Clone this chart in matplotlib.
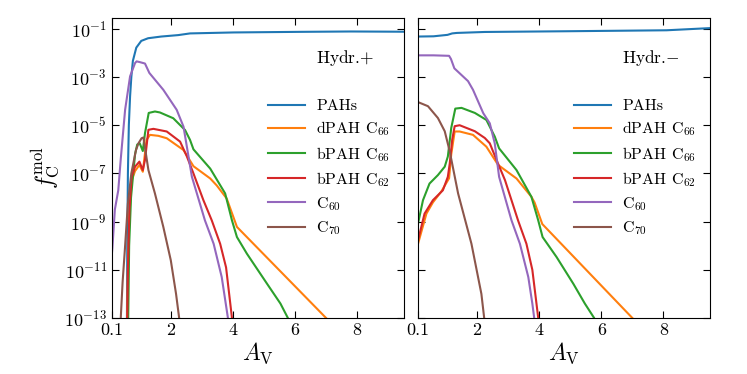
import numpy as np
import matplotlib
matplotlib.use("Agg")
import matplotlib.pyplot as plt

plt.rcParams['font.family'] = 'serif'
plt.rcParams['font.serif'] = ['cmr10']
plt.rcParams['mathtext.fontset'] = 'cm'
plt.rcParams['axes.formatter.use_mathtext'] = True

# ---------------- data (log10 of f_C^mol vs A_V) ----------------
labels = ['PAHs', r'dPAH C$_{66}$', r'bPAH C$_{66}$', r'bPAH C$_{62}$', r'C$_{60}$', r'C$_{70}$']
colors = ['#1f77b4', '#ff7f0e', '#2ca02c', '#d62728', '#9467bd', '#8c564b']

# Hydr.+ panel
p_pahs_x = [0.585, 0.60, 0.62, 0.65, 0.69, 0.73, 0.78, 0.89, 1.05, 1.27, 1.69, 2.24, 2.62, 4.02, 6.17, 7.8, 9.5]
p_pahs_y = [-14, -10, -7, -5, -3.8, -3.0, -2.33, -1.78, -1.5, -1.39, -1.32, -1.26, -1.19, -1.15, -1.125, -1.11, -1.12]
p_dpah_x = [0.59, 0.62, 0.67, 0.74, 0.85, 0.99, 1.1, 1.22, 1.33, 1.6, 1.87, 2.41, 2.73, 3.27, 3.48, 3.8, 4.13, 7.0, 7.76]
p_dpah_y = [-14, -11, -8.7, -7.3, -6.9, -6.65, -6.93, -5.61, -5.4, -5.44, -5.54, -6.03, -6.7, -7.21, -7.5, -8.04, -9.22, -13.0, -14]
p_b66_x = [0.62, 0.66, 0.72, 0.85, 0.92, 1.0, 1.1, 1.17, 1.29, 1.49, 1.65, 2.08, 2.46, 2.62, 2.73, 3.27, 3.75, 3.97, 4.13, 4.45, 5.1, 5.53, 5.77, 5.85]
p_b66_y = [-14, -10, -8, -6.2, -5.8, -5.75, -6.07, -5.33, -4.49, -4.43, -4.47, -4.71, -5.2, -5.61, -6.0, -6.8, -7.83, -8.95, -9.64, -10.33, -11.58, -12.4, -13, -14]
p_b62_x = [0.59, 0.62, 0.67, 0.74, 0.85, 0.99, 1.1, 1.17, 1.28, 1.44, 1.87, 2.3, 2.52, 2.73, 3.05, 3.32, 3.59, 3.78, 3.97, 4.0]
p_b62_y = [-14, -11, -8.5, -7.14, -6.72, -6.51, -6.86, -6.44, -5.19, -5.15, -5.26, -5.68, -6.3, -7.0, -8.11, -8.95, -9.92, -10.9, -13, -14]
p_c60_x = [0.1, 0.12, 0.2, 0.31, 0.39, 0.53, 0.69, 0.85, 0.9, 1.0, 1.17, 1.31, 1.76, 2.19, 2.41, 2.68, 3.1, 3.38, 3.64, 3.84, 3.87]
p_c60_y = [-10.4, -10.1, -8.5, -7.7, -6.4, -4.36, -2.97, -2.42, -2.35, -2.38, -2.44, -2.83, -3.53, -4.36, -5.06, -7.14, -8.95, -9.92, -11.3, -13, -14]
p_c70_x = [0.37, 0.39, 0.45, 0.52, 0.62, 0.73, 0.88, 0.96, 1.06, 1.12, 1.28, 1.49, 1.76, 2.0, 2.17, 2.27, 2.3]
p_c70_y = [-14, -13, -11.5, -10.2, -8.25, -7.0, -6.03, -5.75, -5.54, -5.51, -6.86, -7.83, -9.22, -10.6, -12, -13, -14]

# Hydr.- panel
m_pahs_x = [0.1, 0.6, 1.05, 1.2, 1.35, 2.25, 4.88, 8.1, 9.5]
m_pahs_y = [-1.32, -1.31, -1.25, -1.19, -1.17, -1.13, -1.1, -1.06, -0.97]
m_dpah_x = [0.1, 0.37, 0.58, 0.85, 1.1, 1.17, 1.28, 1.44, 1.87, 2.3, 2.68, 3.27, 3.75, 3.85, 4.1, 7.0, 7.74]
m_dpah_y = [-9.92, -8.67, -8.2, -7.75, -7.2, -6.2, -5.26, -5.26, -5.4, -5.89, -6.65, -7.21, -7.97, -8.2, -9.1, -13.0, -14]
m_b66_x = [0.1, 0.26, 0.47, 0.74, 0.96, 1.06, 1.17, 1.3, 1.5, 1.93, 2.3, 2.57, 2.71, 3.27, 3.75, 3.97, 4.11, 4.56, 5.1, 5.47, 5.77, 5.85]
m_b66_y = [-9.08, -8.11, -7.42, -7.07, -6.72, -6.3, -5.11, -4.31, -4.28, -4.49, -4.78, -5.47, -5.96, -6.86, -7.97, -8.95, -9.64, -10.47, -11.58, -12.4, -13, -14]
m_b62_x = [0.1, 0.31, 0.58, 0.9, 1.06, 1.12, 1.2, 1.28, 1.44, 1.93, 2.25, 2.41, 2.63, 2.9, 3.32, 3.59, 3.78, 3.97, 4.0]
m_b62_y = [-9.78, -8.67, -8.11, -7.7, -7.14, -6.6, -5.6, -5.04, -5.0, -5.25, -5.53, -5.75, -6.45, -7.28, -8.95, -9.92, -11.0, -13, -14]
m_c60_x = [0.1, 0.6, 1.1, 1.16, 1.27, 1.71, 1.87, 2.2, 2.41, 2.57, 2.71, 3.11, 3.38, 3.65, 3.78, 3.84, 3.87]
m_c60_y = [-2.1, -2.1, -2.12, -2.25, -2.64, -3.17, -3.53, -4.5, -4.92, -5.75, -7.14, -8.95, -9.92, -11.3, -12.4, -13, -14]
m_c70_x = [0.1, 0.42, 0.74, 0.96, 1.12, 1.2, 1.39, 1.82, 2.14, 2.23, 2.27]
m_c70_y = [-4.04, -4.21, -4.7, -5.25, -6.08, -6.6, -7.83, -9.92, -12.0, -13, -14]

panels = [
    ('Hydr.$+$', [(p_pahs_x, p_pahs_y), (p_dpah_x, p_dpah_y), (p_b66_x, p_b66_y),
                  (p_b62_x, p_b62_y), (p_c60_x, p_c60_y), (p_c70_x, p_c70_y)]),
    ('Hydr.$-$', [(m_pahs_x, m_pahs_y), (m_dpah_x, m_dpah_y), (m_b66_x, m_b66_y),
                  (m_b62_x, m_b62_y), (m_c60_x, m_c60_y), (m_c70_x, m_c70_y)]),
]

xticks = [0.1, 2, 4, 6, 8]
xticklabels = ['0.1', '2', '4', '6', '8']
yticks = [1e-13, 1e-11, 1e-9, 1e-7, 1e-5, 1e-3, 1e-1]

fig = plt.figure(figsize=(7.47, 3.74), dpi=100)
lefts = [0.1496, 0.5596]
for i, (title, series) in enumerate(panels):
    ax = fig.add_axes([lefts[i], 0.1497, 0.3909, 0.8022])
    for (xs, ys), lab, c in zip(series, labels, colors):
        ax.plot(xs, np.power(10.0, ys), color=c, lw=1.5, label=lab)
    ax.set_yscale('log')
    ax.set_xlim(0.1, 9.5)
    ax.set_ylim(1e-13, 10 ** -0.55)
    ax.set_xticks(xticks)
    ax.set_xticklabels(xticklabels)
    ax.set_yticks(yticks)
    ax.yaxis.set_minor_locator(matplotlib.ticker.NullLocator())
    ax.tick_params(direction='in', top=True, right=True, length=5, width=0.8, labelsize=13)
    if i == 1:
        ax.tick_params(labelleft=False)
    else:
        ax.set_ylabel(r'$f_{\rm C}^{\rm mol}$', fontsize=17, labelpad=2)
    ax.set_xlabel(r'$A_{\rm V}$', fontsize=17, labelpad=2)
    ax.text(0.70, 0.866, title, transform=ax.transAxes, fontsize=12.5, va='center', ha='left')
    ax.legend(loc='center left', bbox_to_anchor=(0.514, 0.50), frameon=False,
              fontsize=11.5, handlelength=2.3, handletextpad=0.7, borderaxespad=0,
              labelspacing=0.4)

fig.savefig('out.png', dpi=100)
